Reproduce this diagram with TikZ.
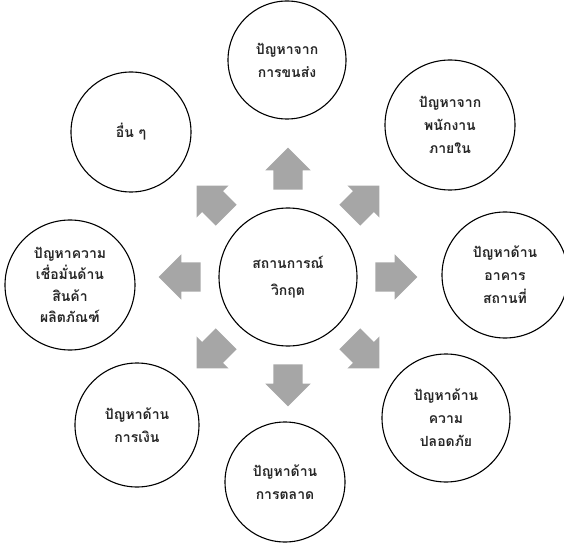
\documentclass[tikz,border=0pt]{standalone}
\usepackage{fontspec}
\newfontfamily\thaifont[Script=Thai]{Loma}
\usetikzlibrary{shapes.arrows}
\colorlet{arrowgray}{black!35}
\tikzstyle{topic}=[circle,draw,line width=1.1pt,align=center,inner sep=0pt,
  font=\thaifont\bfseries\fontsize{14}{23}\selectfont,text=black!85]
\tikzstyle{block arrow}=[single arrow,fill=arrowgray,draw=none,inner xsep=0pt,
  inner ysep=14.5pt,minimum height=42pt,single arrow head extend=8pt]

\begin{document}
\begin{tikzpicture}[x=1pt,y=1pt]
  \useasboundingbox (-288,-266) rectangle (276,277);
  
  \def\rarrow{101} % distance from centre to arrows
  
  % CENTRE
  \node[topic,minimum size=138pt] (crisis) at (0,0) {สถานการณ์\\[4pt]วิกฤต};
  
  % ARROWS
  \foreach \a in {0,45,...,315}{
    \node[block arrow,rotate=\a] (arr\a) at (\a:\rarrow) {};
  }
  
  % TOPICS
  \node[topic,minimum size=118pt] (transport) at (-1,217)    {ปัญหาจาก\\การขนส่ง};
  \node[topic,minimum size=130pt] (staff)     at (162,152)   {ปัญหาจาก\\พนักงาน\\ภายใน};
  \node[topic,minimum size=126pt] (building)  at (217,2)     {ปัญหาด้าน\\อาคาร\\สถานที่};
  \node[topic,minimum size=128pt] (safety)    at (158,-141)  {ปัญหาด้าน\\ความ\\ปลอดภัย};
  \node[topic,minimum size=120pt] (marketing) at (-3,-205)   {ปัญหาด้าน\\การตลาด};
  \node[topic,minimum size=124pt] (finance)   at (-151,-148) {ปัญหาด้าน\\การเงิน};
  \node[topic,minimum size=130pt,font=\thaifont\bfseries\fontsize{14}{21.5}\selectfont]
    (trust) at (-218,-8) {ปัญหาความ\\เชื่อมั่นด้าน\\สินค้า\\ผลิตภัณฑ์};
  \node[topic,minimum size=120pt] (other)     at (-157,145)  {อื่น ๆ};
  
\end{tikzpicture}
\end{document}
